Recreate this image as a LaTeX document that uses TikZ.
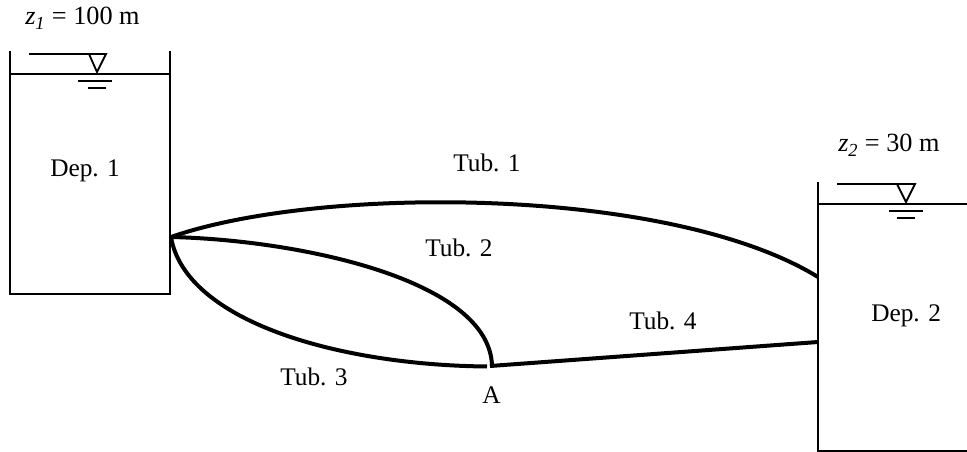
\documentclass[tikz,border=0pt]{standalone}
\usepackage{fontspec}
\setmainfont{Liberation Serif}
\tikzset{
  wall/.style={line width=1.5pt,line cap=butt},
  thin water/.style={line width=1.4pt},
  pipe/.style={line width=3pt},
  lbl/.style={inner sep=0pt,font=\fontsize{19}{22}\selectfont,text=black},
  zlbl/.style={inner sep=0pt,font=\fontsize{19.7}{22}\selectfont,text=black}
}
\begin{document}
\begin{tikzpicture}[x=0.75pt,y=-0.75pt]
\useasboundingbox (0,0) rectangle (967,452);
% tank 1
\coordinate (t1a) at (10,51); \coordinate (t1b) at (10,294); \coordinate (t1c) at (170,294); \coordinate (t1d) at (170,51);
\draw[wall] (t1a) -- (t1b) -- (t1c) -- (t1d);
\draw[wall] (10,74) -- (170,74);
\draw[thin water] (29,54) -- (106,54) -- (97,72) -- (89,54);
\draw[thin water] (78,81) -- (112,81);
\draw[thin water] (88,88) -- (106,88);
% tank 2
\coordinate (t2a) at (818,182); \coordinate (t2b) at (818,451); \coordinate (t2c) at (967,451);
\draw[wall] (t2a) -- (t2b) -- (t2c);
\draw[wall] (818,204) -- (967,204);
\draw[thin water] (837,184) -- (915,184) -- (906,202) -- (897,184);
\draw[thin water] (889,211) -- (923,211);
\draw[thin water] (897,218) -- (915,218);
% junctions
\coordinate (src) at (171,237);
\coordinate (a2) at (492,366);
\coordinate (a3) at (487,366.5);
\coordinate (a4) at (490,366);
\coordinate (e1) at (818,277);
\coordinate (e4) at (818,342);
% pipes
\draw[pipe] (src) .. controls (320,185) and (670,186) .. (e1);
\draw[pipe] (src) .. controls (300,240) and (490,280) .. (a2);
\draw[pipe] (src) .. controls (185,320) and (335,365) .. (a3);
\draw[pipe] (a4) -- (e4);
% labels
\node[zlbl,anchor=base west] (z1) at (25,25) {\textit{z}\textsubscript{\textit{1}} = 100 m};
\node[lbl,anchor=base west] (d1) at (50,177) {Dep. 1};
\node[lbl,anchor=base west] (tb1) at (453,172) {Tub. 1};
\node[lbl,anchor=base west] (tb2) at (425,257) {Tub. 2};
\node[lbl,anchor=base west] (tb3) at (280,385) {Tub. 3};
\node[lbl,anchor=base west] (tb4) at (629,329) {Tub. 4};
\node[lbl,anchor=base west] (A) at (482,403) {A};
\node[zlbl,anchor=base west] (z2) at (838,152) {\textit{z}\textsubscript{\textit{2}} = 30 m};
\node[lbl,anchor=base west] (d2) at (871,321) {Dep. 2};
\end{tikzpicture}
\end{document}
